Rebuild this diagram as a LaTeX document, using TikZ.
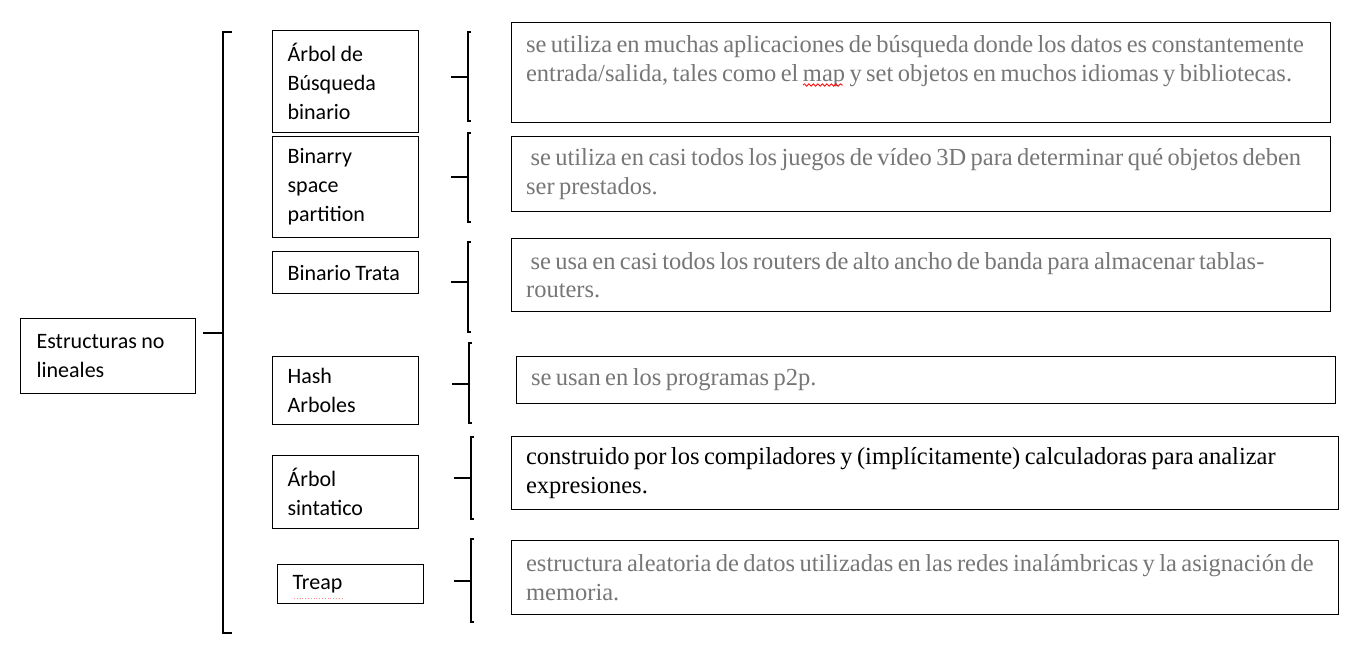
\documentclass[tikz,border=0pt]{standalone}
\usepackage{fontspec}
\setmainfont{Liberation Serif}
\newfontfamily\itemfont{Carlito}
\usetikzlibrary{decorations.pathmorphing}
\definecolor{desctext}{RGB}{118,118,118}
\newcommand\tightspaces[1]{\spaceskip=#1em minus 0.03em\relax}

\begin{document}
\begin{tikzpicture}[x=1pt, y=-1pt,
    item/.style={draw, line width=1.2pt, anchor=north west, inner xsep=15pt, inner ysep=0pt, text width=116pt, align=left, font=\itemfont\fontsize{22}{29}\selectfont, execute at begin node=\tightspaces{0.2}},
    desc/.style={draw, line width=1.2pt, anchor=north west, inner xsep=15pt, inner ysep=0pt, text width=789pt, align=left, text=desctext, font=\fontsize{24.5}{28.5}\selectfont, execute at begin node=\tightspaces{0.18}},
    brace/.style={line width=2.6pt},
    spell/.style={red, line width=0.8pt, decorate, decoration={snake, amplitude=1.2pt, segment length=4.5pt}}
]
    \useasboundingbox (0,0) rectangle (1360,649);

    \node[item, text width=143pt, inner xsep=16pt, minimum height=75pt] (root) at (20,318) {Estructuras no\\lineales};

    \node[item, minimum height=102pt] (bst) at (272,30) {Árbol de\\Búsqueda\\binario};
    \node[item, minimum height=101pt] (bsp) at (272,136) {Binarry\\space\\partition};
    \node[item, minimum height=42pt] (trie) at (272,251) {Binario Trata};
    \node[item, minimum height=68pt] (hash) at (272,356) {Hash\\Arboles};
    \node[item, minimum height=73pt] (syntax) at (272,455) {Árbol\\sintatico};
    \node[item, minimum height=39pt] (treap) at (277,564) {Treap};

    \node[desc, minimum height=100pt] (bstuse) at (510.5,22) {se utiliza en muchas aplicaciones de búsqueda donde los datos es constantemente\\entrada/salida, tales como el map y set objetos en muchos idiomas y bibliotecas.\\\mbox{}};
    \node[desc, minimum height=75pt] (bspuse) at (510.5,136) {\ se utiliza en casi todos los juegos de vídeo 3D para determinar qué objetos deben\\ser prestados.};
    \node[desc, minimum height=73pt] (trieuse) at (510.5,238) {\ se usa en casi todos los routers de alto ancho de banda para almacenar tablas-\\routers.};
    \node[desc, minimum height=47pt] (hashuse) at (515.5,356) {se usan en los programas p2p.};
    \node[desc, text width=797pt, minimum height=73pt, text=black] (syntaxuse) at (510.5,436) {construido por los compiladores y (implícitamente) calculadoras para analizar\\expresiones.};
    \node[desc, text width=797pt, minimum height=74pt] (treapuse) at (510.5,540) {estructura aleatoria de datos utilizadas en las redes inalámbricas y la asignación de\\memoria.};

    % brackets
    \draw[brace] (232,32) -- (223,32) -- (223,633) -- (232,633);
    \draw[brace] (203,333) -- (223,333);
    \foreach \x/\t/\m/\b in {468/32/77/121, 468/133/177/222, 468/242/282/332, 469/343/384/423, 471/437/478/519, 471/539/581/622}
        \draw[brace] ({\x+3},\t) -- (\x,\t) -- (\x,\b) -- ({\x+3},\b) (\x,\m) -- ({\x-17},\m);

    % spelling marks
    \draw[spell] (803,85) -- (843,85);
    \draw[red!45, dotted, line width=0.8pt] (294,598) -- (343,598);
\end{tikzpicture}
\end{document}
